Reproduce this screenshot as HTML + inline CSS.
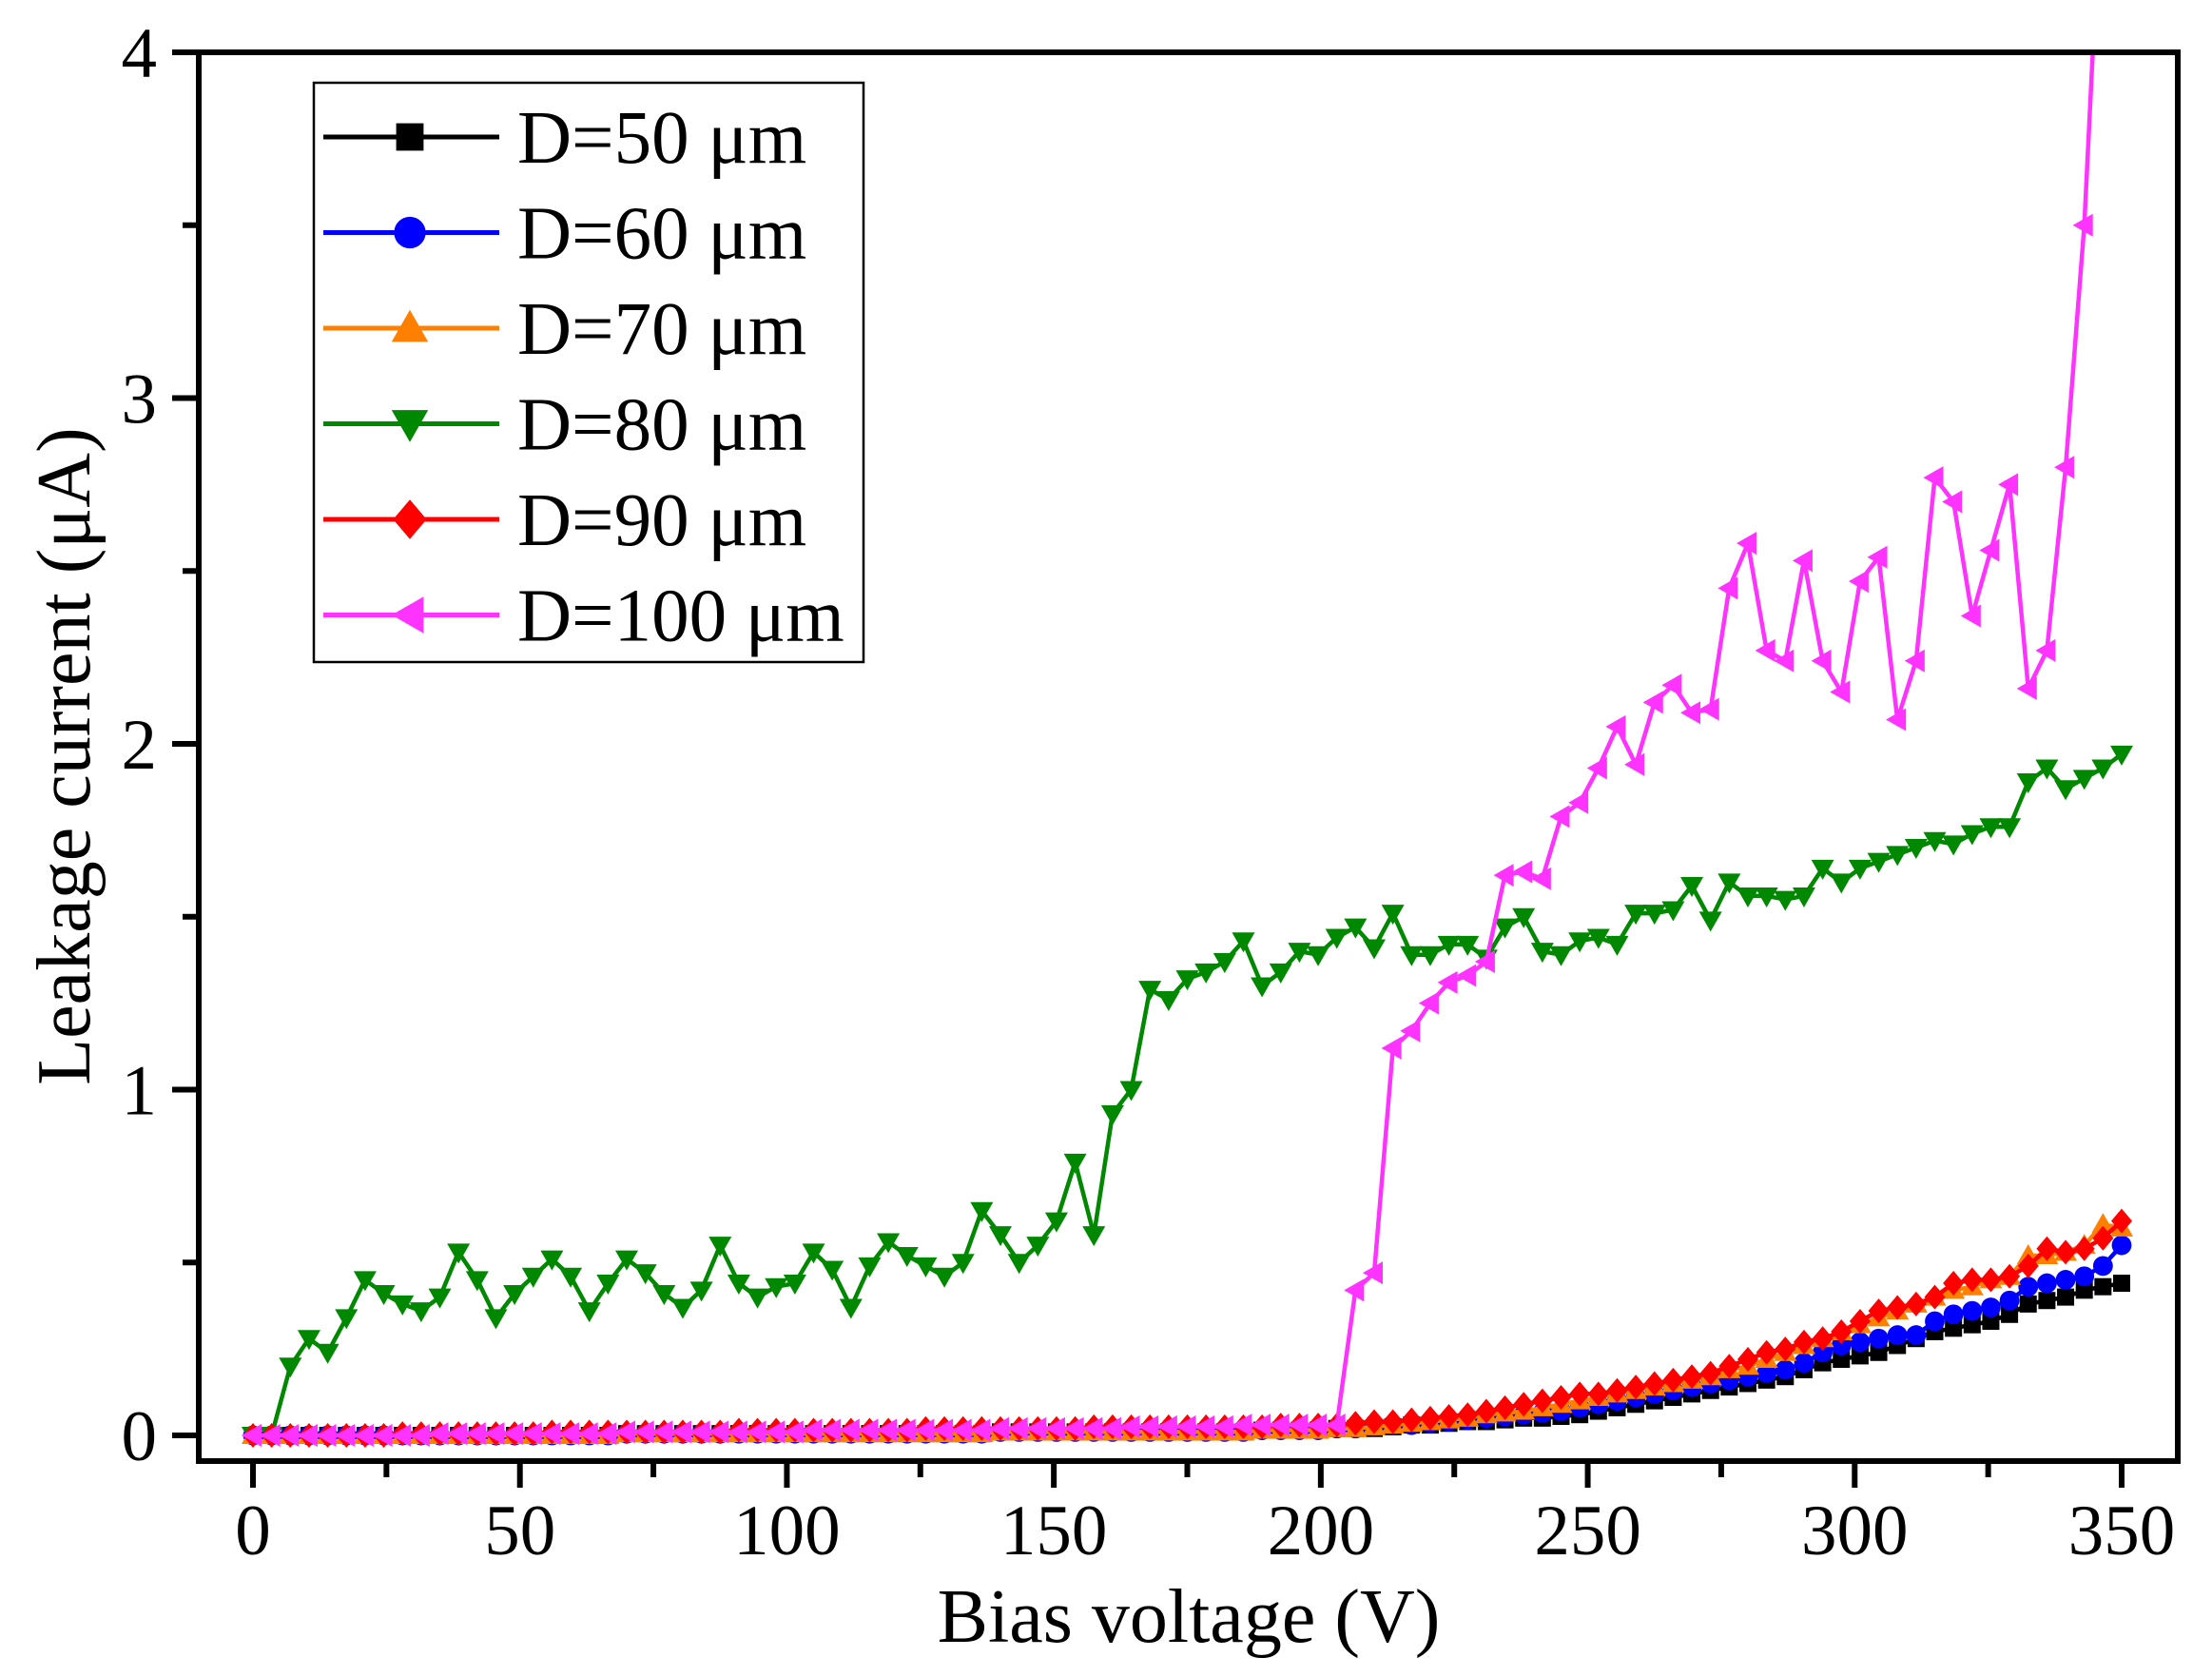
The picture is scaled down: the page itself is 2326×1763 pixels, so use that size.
<!DOCTYPE html>
<html><head><meta charset="utf-8"><style>
html,body{margin:0;padding:0;background:#fff;}
svg{display:block;font-family:"Liberation Serif",serif;}
</style></head><body>
<svg id="chart" width="2326" height="1763" viewBox="0 0 2326 1763">
<defs><clipPath id="plotclip"><rect x="209" y="55" width="2081" height="1481"/></clipPath></defs>
</svg>
<script>
const voltages=[0,3.5,7,10.5,14,17.5,21,24.5,28,31.5,35,38.5,42,45.5,49,52.5,56,59.5,63,66.5,70,73.5,77,80.5,84,87.5,91,94.5,98,101.5,105,108.5,112,115.5,119,122.5,126,129.5,133,136.5,140,143.5,147,150.5,154,157.5,161,164.5,168,171.5,175,178.5,182,185.5,189,192.5,196,199.5,203,206.5,210,213.5,217,220.5,224,227.5,231,234.5,238,241.5,245,248.5,252,255.5,259,262.5,266,269.5,273,276.5,280,283.5,287,290.5,294,297.5,301,304.5,308,311.5,315,318.5,322,325.5,329,332.5,336,339.5,343,346.5,350];
const lowBase=[0,0,0,0,0,0,0,0,0,0,0,0,0,0,0,0,0,0,0,0,0.005,0.005,0.005,0.005,0.005,0.005,0.005,0.005,0.005,0.005,0.005,0.005,0.005,0.005,0.005,0.005,0.005,0.005,0.005,0.005,0.01,0.01,0.01,0.01,0.01,0.01,0.01,0.01,0.01,0.01,0.01,0.01,0.01,0.01,0.015,0.015,0.015,0.015];
const d50=lowBase.concat([0.02,0.02,0.02,0.025,0.03,0.03,0.035,0.04,0.04,0.045,0.05,0.05,0.055,0.06,0.07,0.08,0.09,0.1,0.11,0.12,0.13,0.14,0.15,0.16,0.17,0.19,0.21,0.22,0.23,0.24,0.26,0.28,0.3,0.31,0.32,0.33,0.35,0.38,0.39,0.4,0.42,0.43,0.44]);
const d60=lowBase.concat([0.02,0.02,0.025,0.03,0.03,0.035,0.04,0.045,0.05,0.055,0.06,0.065,0.07,0.08,0.09,0.1,0.11,0.12,0.13,0.14,0.15,0.16,0.17,0.18,0.19,0.21,0.24,0.26,0.27,0.28,0.29,0.29,0.33,0.35,0.36,0.37,0.39,0.43,0.44,0.45,0.46,0.49,0.55]);
const d70=lowBase.concat([0.02,0.02,0.025,0.03,0.035,0.04,0.045,0.05,0.06,0.065,0.07,0.08,0.09,0.1,0.11,0.12,0.13,0.14,0.15,0.16,0.17,0.19,0.2,0.22,0.24,0.26,0.28,0.3,0.32,0.34,0.36,0.38,0.4,0.42,0.43,0.45,0.46,0.52,0.52,0.53,0.55,0.61,0.6]);
const d80=[0,0,0.2,0.28,0.24,0.34,0.45,0.41,0.38,0.36,0.4,0.53,0.45,0.34,0.41,0.46,0.51,0.46,0.36,0.44,0.51,0.47,0.41,0.37,0.42,0.55,0.44,0.4,0.43,0.44,0.53,0.48,0.37,0.49,0.56,0.52,0.49,0.46,0.5,0.65,0.58,0.5,0.55,0.62,0.79,0.58,0.93,1.0,1.29,1.26,1.32,1.34,1.37,1.43,1.3,1.34,1.4,1.39,1.44,1.47,1.41,1.51,1.39,1.39,1.42,1.42,1.38,1.47,1.5,1.4,1.39,1.43,1.44,1.42,1.51,1.51,1.52,1.59,1.49,1.6,1.56,1.56,1.55,1.56,1.64,1.6,1.64,1.66,1.68,1.7,1.72,1.71,1.74,1.76,1.76,1.89,1.93,1.87,1.9,1.93,1.97];
const d90=[0,0,0,0,0,0,0,0,0.005,0.005,0.005,0.005,0.005,0.005,0.005,0.005,0.01,0.01,0.01,0.01,0.01,0.01,0.01,0.01,0.01,0.01,0.015,0.015,0.015,0.015,0.015,0.015,0.015,0.015,0.015,0.015,0.02,0.02,0.02,0.02,0.02,0.02,0.02,0.02,0.02,0.025,0.025,0.025,0.025,0.025,0.025,0.025,0.025,0.025,0.025,0.03,0.03,0.03,0.03,0.035,0.04,0.04,0.045,0.05,0.055,0.06,0.07,0.08,0.09,0.1,0.11,0.12,0.12,0.13,0.14,0.15,0.16,0.17,0.18,0.2,0.22,0.24,0.25,0.27,0.28,0.3,0.33,0.36,0.37,0.38,0.4,0.44,0.45,0.45,0.46,0.49,0.54,0.53,0.54,0.57,0.62];
const d100=[0,0,0,0,0,0,0,0,0,0,0.005,0.005,0.005,0.005,0.005,0.005,0.005,0.005,0.005,0.005,0.01,0.01,0.01,0.01,0.01,0.01,0.01,0.01,0.01,0.01,0.015,0.015,0.015,0.015,0.015,0.015,0.015,0.015,0.015,0.015,0.02,0.02,0.02,0.02,0.02,0.02,0.02,0.025,0.025,0.025,0.025,0.025,0.025,0.03,0.03,0.03,0.03,0.03,0.03,0.42,0.47,1.12,1.17,1.25,1.31,1.33,1.37,1.62,1.63,1.61,1.79,1.83,1.93,2.05,1.94,2.12,2.17,2.09,2.1,2.45,2.58,2.27,2.24,2.53,2.24,2.15,2.47,2.54,2.07,2.24,2.77,2.7,2.37,2.56,2.75,2.16,2.27,2.8,3.5,4.6,6.0];
const seriesNames=["D=50 μm","D=60 μm","D=70 μm","D=80 μm","D=90 μm","D=100 μm"];
const xTicks=[0,50,100,150,200,250,300,350];
const yTicks=[0,1,2,3,4];

const NS="http://www.w3.org/2000/svg";
const svg=document.getElementById('chart');
const X0=266,X1=2231,Y0=1509,Y4=55;
const L=209,R=2290,T=55,B=1536;
const xs=v=>X0+(X1-X0)*v/350;
const ys=v=>Y0-(Y0-Y4)*v/4;
function mk(tag,attrs,parent){const e=document.createElementNS(NS,tag);for(const k in attrs)e.setAttribute(k,attrs[k]);(parent||svg).appendChild(e);return e;}

const colors=["#000000","#0000ff","#ff8000","#008800","#ff0000","#ff33ff"];
const shapes=["square","circle","up","down","diamond","left"];
function marker(shape,cx,cy,s,color,parent){
  let e;
  if(shape==="square")e=mk('rect',{x:cx-s*0.45,y:cy-s*0.45,width:s*0.9,height:s*0.9,fill:color},parent);
  else if(shape==="circle")e=mk('circle',{cx:cx,cy:cy,r:s*0.52,fill:color},parent);
  else{let p;
    if(shape==="up")p=[[cx,cy-s*0.6],[cx+s*0.6,cy+s*0.45],[cx-s*0.6,cy+s*0.45]];
    else if(shape==="down")p=[[cx,cy+s*0.6],[cx+s*0.6,cy-s*0.45],[cx-s*0.6,cy-s*0.45]];
    else if(shape==="diamond")p=[[cx,cy-s*0.65],[cx+s*0.55,cy],[cx,cy+s*0.65],[cx-s*0.55,cy]];
    else p=[[cx-s*0.6,cy],[cx+s*0.45,cy-s*0.6],[cx+s*0.45,cy+s*0.6]];
    e=mk('polygon',{points:p.map(q=>q.join(',')).join(' '),fill:color},parent);}
  return e;
}
const allSeries=[d50,d60,d70,d80,d90,d100];
const plot=mk('g',{'clip-path':'url(#plotclip)'});


allSeries.forEach((vals,si)=>{
  const g=mk('g',{},plot);
  
  
  const pts=vals.map((v,i)=>xs(voltages[i]).toFixed(1)+','+ys(v).toFixed(1)).join(' ');
  const pl=mk('polyline',{points:pts,fill:'none',stroke:colors[si],'stroke-width':4.5,'stroke-linejoin':'round'},g);
  
  
  vals.forEach((v,i)=>{
    const m=marker(shapes[si],xs(voltages[i]),ys(v),20,colors[si],g);
    
    
  });
});
const frame=mk('rect',{x:L,y:T,width:R-L,height:B-T,fill:'none',stroke:'#000','stroke-width':6});


xTicks.forEach(v=>{
  const t=mk('line',{x1:xs(v),x2:xs(v),y1:B,y2:B+28,stroke:'#000','stroke-width':6});
  
  
  const tx=mk('text',{x:xs(v),y:1634,'text-anchor':'middle','font-size':75});
  tx.textContent=v;
  
  
  if(v<350){const mt=mk('line',{x1:xs(v+25),x2:xs(v+25),y1:B,y2:B+17,stroke:'#000','stroke-width':6});
  
  }
});
yTicks.forEach(v=>{
  const t=mk('line',{x1:L-28,x2:L,y1:ys(v),y2:ys(v),stroke:'#000','stroke-width':6});
  
  
  const tx=mk('text',{x:165,y:ys(v)+26,'text-anchor':'end','font-size':75});
  tx.textContent=v;
  
  
  if(v<4){const mt=mk('line',{x1:L-17,x2:L,y1:ys(v+0.5),y2:ys(v+0.5),stroke:'#000','stroke-width':6});
  
  }
});
const xt=mk('text',{x:1250,y:1726,'text-anchor':'middle','font-size':80});
xt.textContent='Bias voltage (V)';


const yt=mk('text',{x:0,y:0,'text-anchor':'middle','font-size':80,transform:'translate(94,795) rotate(-90)'});
yt.textContent='Leakage current (μA)';


const lg=mk('g',{});


mk('rect',{x:330,y:87,width:578,height:609,fill:'#fff',stroke:'#000','stroke-width':2.5},lg);
seriesNames.forEach((n,i)=>{
  const cy=144+i*100.5;
  const e=mk('g',{},lg);
  
  
  mk('line',{x1:340,x2:525,y1:cy,y2:cy,stroke:colors[i],'stroke-width':5},e);
  marker(shapes[i],431,cy,32,colors[i],e);
  const t=mk('text',{x:544,y:cy+27,'font-size':79},e);
  t.textContent=n;
});
</script>
</body></html>
